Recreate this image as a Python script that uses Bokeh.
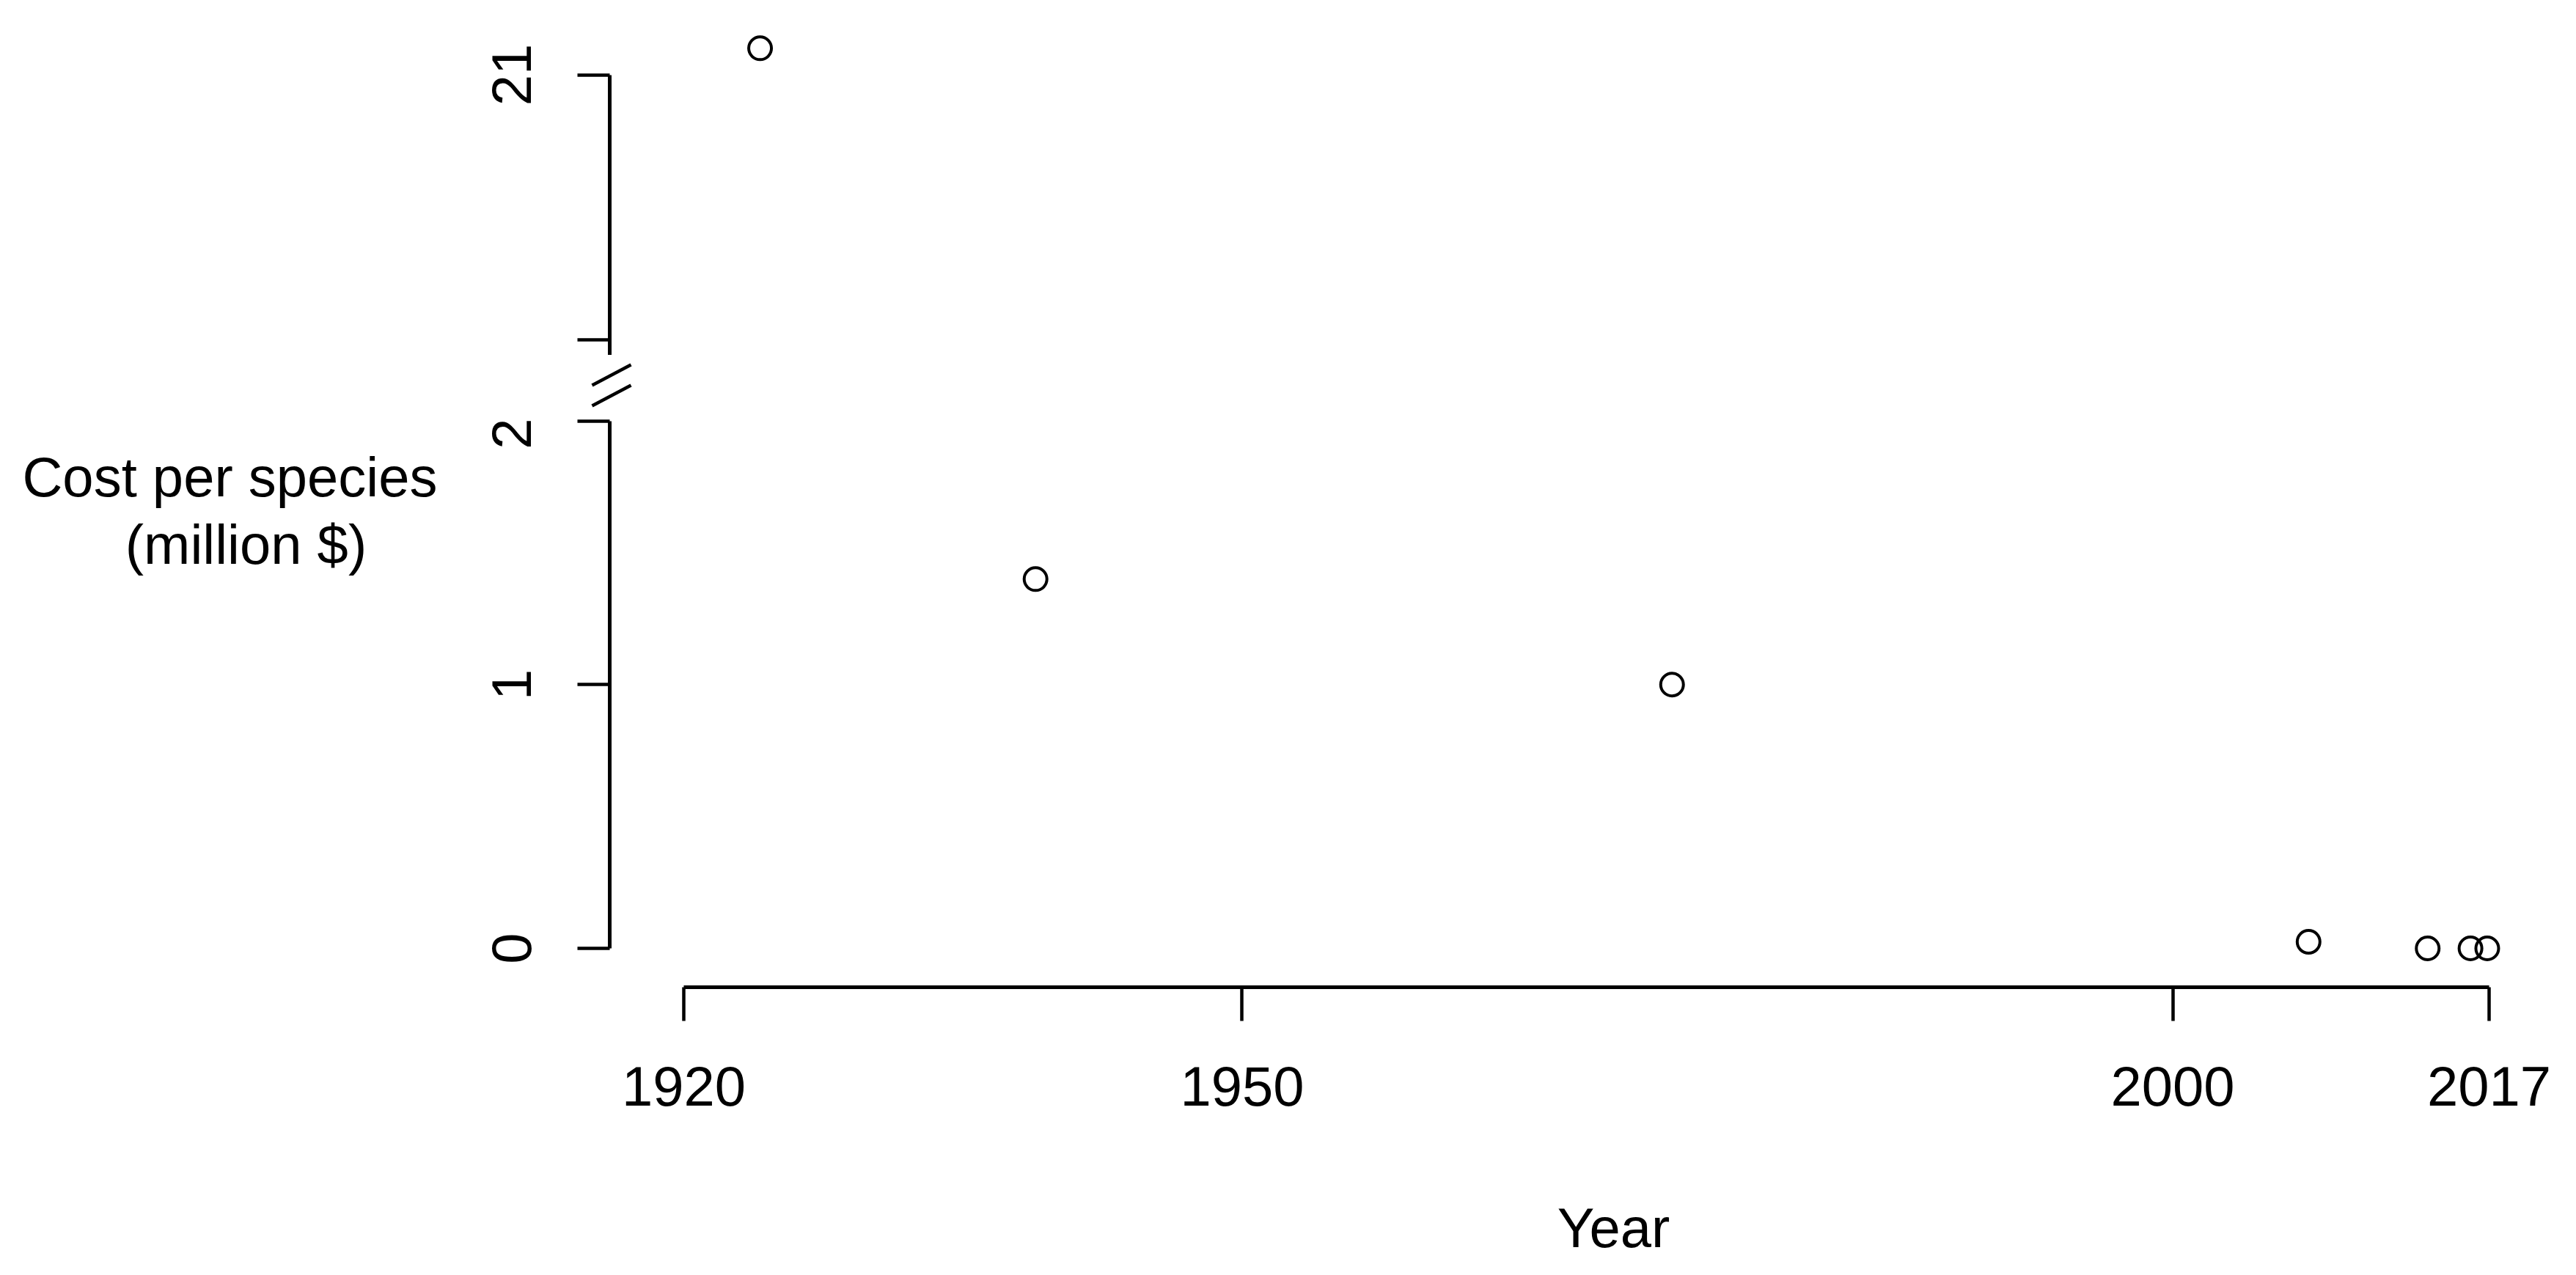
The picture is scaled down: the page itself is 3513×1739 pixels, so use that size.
from bokeh.plotting import figure
from bokeh.models import FixedTicker, Range1d
from bokeh.layouts import column, row
from bokeh.core.properties import value
from bokeh.embed import file_html
from bokeh.resources import INLINE

# ---- data ----
years = [1924.1, 1938.9, 1973.1, 2007.3, 2013.7, 2016.0, 2016.9]
cost = [21.1, 1.4, 1.0, 0.025, 0.0, 0.0, 0.0]
x_ticks = [1920, 1950, 2000, 2017]
y_ticks_low = [0, 1, 2]
y_ticks_high = [20, 21]
y_label_overrides_high = {20: "", 21: "21"}
x_title = "Year"
y_title_lines = ["Cost per species", "(million $)"]
break_low, break_high = 2, 20

# ---- layout constants (pixels) ----
FONT = "Liberation Sans"
FS = "76px"
TOTAL_W, TOTAL_H = 3497, 1723
TITLE_W = 628
AXIS_X = 831                      # y axis line position (frame left)
COL_W = TOTAL_W - TITLE_W
BORDER_L = AXIS_X - TITLE_W

px_year = (3394 - 932) / (2017 - 1920)
x_start = 1920 - (932 - AXIS_X) / px_year
x_end = x_start + (TOTAL_W - AXIS_X) / px_year

# top panel: 0..484
H_TOP = 484
top_px_unit = 361.5
top_lo = break_high - (H_TOP - 463) / top_px_unit
top_hi = 21 + 101.5 / top_px_unit

# break strip: 484..570
H_BRK = 86
BRK_L = 780

# bottom panel: 570..1570 (frame 570..1346)
H_BOT = 1000
BOT_FRAME = 1346 - 570
low_px_unit = 359.75
bot_lo = 0 - (1346 - 1293) / low_px_unit
bot_hi = break_low + (573.5 - 570) / low_px_unit

# x title strip: 1570..1723
H_XT = TOTAL_H - H_TOP - H_BRK - H_BOT
Y0_XT = H_TOP + H_BRK + H_BOT

hi_x = [x for x, c in zip(years, cost) if c >= break_high]
hi_y = [c for c in cost if c >= break_high]
lo_x = [x for x, c in zip(years, cost) if c <= break_low]
lo_y = [c for c in cost if c <= break_low]


def base_fig(w, h, xr, yr, mb_left=0, mb_bottom=0):
    p = figure(width=w, height=h, x_range=xr, y_range=yr,
               output_backend="svg", toolbar_location=None,
               min_border_left=mb_left, min_border_right=0, min_border_top=0,
               min_border_bottom=mb_bottom)
    p.outline_line_color = None
    p.xgrid.visible = False
    p.ygrid.visible = False
    p.background_fill_color = "white"
    p.border_fill_color = "white"
    return p


def style_axis(ax, ticks, bounds, tick_len, standoff):
    ax.ticker = FixedTicker(ticks=ticks)
    ax.bounds = bounds
    ax.axis_line_width = 5
    ax.axis_line_color = "black"
    ax.major_tick_line_width = 4.5
    ax.major_tick_line_color = "black"
    ax.major_tick_out = tick_len
    ax.major_tick_in = 0
    ax.minor_tick_line_color = None
    ax.major_label_standoff = standoff
    ax.major_label_text_font = FONT
    ax.major_label_text_font_size = FS
    ax.major_label_text_color = "black"


def marks(p, xs, ys):
    p.scatter(xs, ys, marker="circle", size=31, fill_color=None,
              line_color="black", line_width=4)


# ---- y title panel ----
p_title = base_fig(TITLE_W, TOTAL_H, Range1d(0, TITLE_W), Range1d(TOTAL_H, 0))
p_title.axis.visible = False
p_title.frame_align = False
p_title.text(x=[313, 335], y=[650, 742], text=y_title_lines,
             text_font=value(FONT), text_font_size=value(FS), text_color="black",
             text_align="center", text_baseline="alphabetic")

# ---- top panel (above the break) ----
p_top = base_fig(COL_W, H_TOP, Range1d(x_start, x_end), Range1d(top_lo, top_hi),
                 mb_left=BORDER_L)
p_top.xaxis.visible = False
ya_top = p_top.yaxis[0]
style_axis(ya_top, y_ticks_high, (top_lo, 21), 44, 64)
ya_top.major_label_orientation = "vertical"
ya_top.major_label_overrides = y_label_overrides_high
marks(p_top, hi_x, hi_y)

# ---- break strip (two parallel slashes across the y axis) ----
p_brk = base_fig(COL_W, H_BRK, Range1d(BRK_L, TOTAL_W), Range1d(H_TOP + H_BRK, H_TOP),
                 mb_left=BRK_L - TITLE_W)
p_brk.axis.visible = False
p_brk.frame_align = False
p_brk.segment(x0=[807, 807], y0=[525, 553], x1=[860, 860], y1=[497, 525],
              line_color="black", line_width=4.5)

# ---- bottom panel (below the break) ----
p_bot = base_fig(COL_W, H_BOT, Range1d(x_start, x_end), Range1d(bot_lo, bot_hi),
                 mb_left=BORDER_L, mb_bottom=H_BOT - BOT_FRAME)
ya_bot = p_bot.yaxis[0]
style_axis(ya_bot, y_ticks_low, (0, break_low), 44, 64)
ya_bot.major_label_orientation = "vertical"
style_axis(p_bot.xaxis[0], x_ticks, (x_ticks[0], x_ticks[-1]), 46, 62)
marks(p_bot, lo_x, lo_y)

# ---- x title strip ----
p_xt = base_fig(COL_W, H_XT, Range1d(TITLE_W, TOTAL_W), Range1d(TOTAL_H, Y0_XT))
p_xt.axis.visible = False
p_xt.frame_align = False
p_xt.text(x=[2200], y=[1674], text=[x_title],
          text_font=value(FONT), text_font_size=value(FS), text_color="black",
          text_align="center", text_baseline="alphabetic")

layout = row(p_title, column(p_top, p_brk, p_bot, p_xt, spacing=0), spacing=0)
open("out.html", "w").write(file_html(layout, INLINE))
